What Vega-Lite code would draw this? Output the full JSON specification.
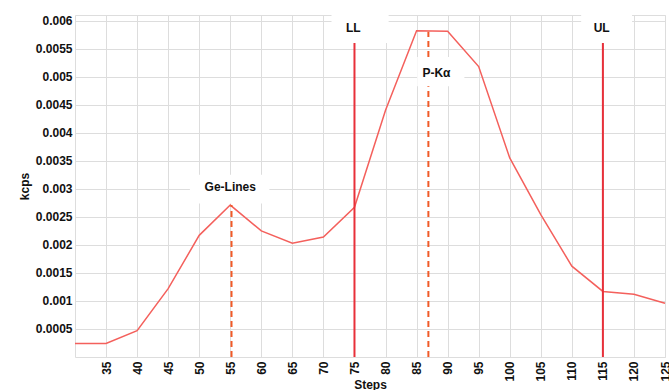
{
  "$schema": "https://vega.github.io/schema/vega-lite/v6.json",
  "width": 590,
  "height": 342,
  "autosize": {"type": "none"},
  "padding": {"left": 75, "top": 15, "right": 4, "bottom": 33},
  "config": {
    "font": "Liberation Sans",
    "view": {"stroke": "#ddd"},
    "axis": {
      "domain": false,
      "ticks": false,
      "labelOverlap": false,
      "labelFlush": false,
      "labelBound": false,
      "gridColor": "#dddddd",
      "labelFont": "Liberation Sans",
      "labelFontWeight": "bold",
      "labelFontSize": 12,
      "labelColor": "#111",
      "titleFont": "Liberation Sans",
      "titleFontWeight": "bold",
      "titleFontSize": 12,
      "titleColor": "#111"
    }
  },
  "datasets": {
    "series": [
      {"Steps": 30, "kcps": 0.00024},
      {"Steps": 35, "kcps": 0.00024},
      {"Steps": 40, "kcps": 0.00047},
      {"Steps": 45, "kcps": 0.00122},
      {"Steps": 50, "kcps": 0.00217},
      {"Steps": 55, "kcps": 0.00271},
      {"Steps": 60, "kcps": 0.00225},
      {"Steps": 65, "kcps": 0.00203},
      {"Steps": 70, "kcps": 0.00214},
      {"Steps": 75, "kcps": 0.00267},
      {"Steps": 80, "kcps": 0.0044},
      {"Steps": 85, "kcps": 0.00582},
      {"Steps": 90, "kcps": 0.00581},
      {"Steps": 95, "kcps": 0.00518},
      {"Steps": 100, "kcps": 0.00355},
      {"Steps": 105, "kcps": 0.00254},
      {"Steps": 110, "kcps": 0.00162},
      {"Steps": 115, "kcps": 0.00117},
      {"Steps": 120, "kcps": 0.00112},
      {"Steps": 125, "kcps": 0.00096}
    ],
    "limits": [
      {"Steps": 75, "lo": 0, "hi": 0.0056},
      {"Steps": 115, "lo": 0, "hi": 0.0056}
    ],
    "peaks": [
      {"Steps": 55.2, "lo": 0, "hi": 0.00271},
      {"Steps": 86.9, "lo": 0, "hi": 0.0058}
    ],
    "boxes": [
      {"x1": 71.3, "x2": 80.5, "y1": 0.0056, "y2": 0.0064},
      {"x1": 111.5, "x2": 119.7, "y1": 0.0056, "y2": 0.0064},
      {"x1": 85.1, "x2": 92.7, "y1": 0.00483, "y2": 0.00535},
      {"x1": 48.5, "x2": 61.3, "y1": 0.00274, "y2": 0.00325}
    ],
    "labels": [
      {"Steps": 74.8, "kcps": 0.00586, "label": "LL"},
      {"Steps": 114.8, "kcps": 0.00586, "label": "UL"},
      {"Steps": 88.2, "kcps": 0.00507, "label": "P-Kα"},
      {"Steps": 55, "kcps": 0.00303, "label": "Ge-Lines"}
    ]
  },
  "layer": [
    {
      "data": {"name": "series"},
      "mark": {"type": "line", "color": "#f4605c", "strokeWidth": 1.5},
      "encoding": {
        "x": {
          "field": "Steps", "type": "quantitative",
          "scale": {"domain": [30, 125], "nice": false, "zero": false},
          "axis": {
            "title": "Steps",
            "values": [35, 40, 45, 50, 55, 60, 65, 70, 75, 80, 85, 90, 95, 100, 105, 110, 115, 120, 125],
            "tickCount": 40,
            "labelAngle": 270,
            "labelAlign": "right",
            "labelBaseline": "middle",
            "labelPadding": 4,
            "titleBaseline": "alphabetic",
            "titleY": 31
          }
        },
        "y": {
          "field": "kcps", "type": "quantitative",
          "scale": {"domain": [0, 0.0061], "nice": false},
          "axis": {
            "title": "kcps",
            "values": [0.0005, 0.001, 0.0015, 0.002, 0.0025, 0.003, 0.0035, 0.004, 0.0045, 0.005, 0.0055, 0.006],
            "tickCount": 40,
            "format": "~g",
            "labelPadding": 3,
            "titlePadding": 4
          }
        }
      }
    },
    {
      "data": {"name": "limits"},
      "mark": {"type": "rule", "color": "#e8303a", "strokeWidth": 2},
      "encoding": {
        "x": {"field": "Steps", "type": "quantitative"},
        "y": {"field": "lo", "type": "quantitative"},
        "y2": {"field": "hi"}
      }
    },
    {
      "data": {"name": "peaks"},
      "mark": {"type": "rule", "color": "#f05a28", "strokeWidth": 2, "strokeDash": [6, 4]},
      "encoding": {
        "x": {"field": "Steps", "type": "quantitative"},
        "y": {"field": "lo", "type": "quantitative"},
        "y2": {"field": "hi"}
      }
    },
    {
      "data": {"name": "boxes"},
      "mark": {"type": "rect", "color": "white", "opacity": 1},
      "encoding": {
        "x": {"field": "x1", "type": "quantitative"},
        "x2": {"field": "x2"},
        "y": {"field": "y1", "type": "quantitative"},
        "y2": {"field": "y2"}
      }
    },
    {
      "data": {"name": "labels"},
      "mark": {"type": "text", "font": "Liberation Sans", "fontWeight": "bold", "fontSize": 12, "color": "#111", "align": "center", "baseline": "middle"},
      "encoding": {
        "x": {"field": "Steps", "type": "quantitative"},
        "y": {"field": "kcps", "type": "quantitative"},
        "text": {"field": "label"}
      }
    }
  ]
}
